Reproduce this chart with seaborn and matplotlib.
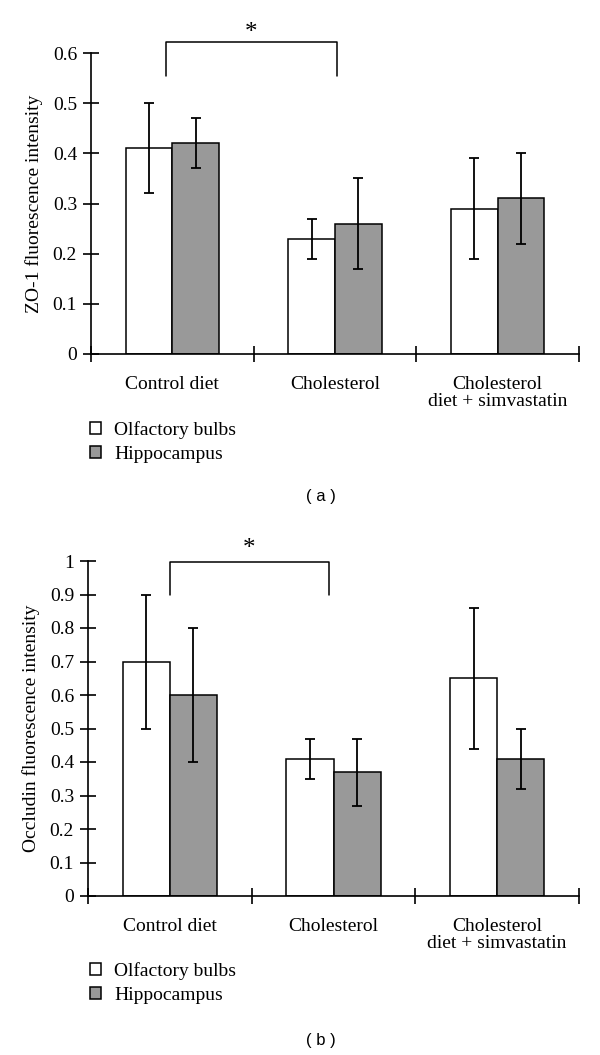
import numpy as np
import pandas as pd
import seaborn as sns
import matplotlib.pyplot as plt
from matplotlib.patches import Patch

# categories and series
groups = ["Control diet", "Cholesterol", "Cholesterol\ndiet + simvastatin"]
tissues = ["Olfactory bulbs", "Hippocampus"]

zo1_olf = [0.41, 0.23, 0.29]
zo1_olf_err = [0.09, 0.04, 0.10]
zo1_hip = [0.42, 0.26, 0.31]
zo1_hip_err = [0.05, 0.09, 0.09]

occ_olf = [0.70, 0.41, 0.65]
occ_olf_err = [0.20, 0.06, 0.21]
occ_hip = [0.60, 0.37, 0.41]
occ_hip_err = [0.20, 0.10, 0.09]

zo1_ticks = [0, 0.1, 0.2, 0.3, 0.4, 0.5, 0.6]
zo1_ticklabels = ["0", "0.1", "0.2", "0.3", "0.4", "0.5", "0.6"]
occ_ticks = [0, 0.1, 0.2, 0.3, 0.4, 0.5, 0.6, 0.7, 0.8, 0.9, 1.0]
occ_ticklabels = ["0", "0.1", "0.2", "0.3", "0.4", "0.5", "0.6", "0.7", "0.8", "0.9", "1"]

SERIF = ["Liberation Serif", "DejaVu Serif"]
FS = 14


def make_df(olf,olf_err,hip,hip_err):
    return pd.DataFrame({
        "group": groups * 2,
        "tissue": [tissues[0]] * 3 + [tissues[1]] * 3,
        "value": olf + hip,
        "err": olf_err + hip_err,
    })


def draw_panel(fig,rect,df,ticks,ticklabels,ylim,ylabel,bracket,legend_y,tag,tag_y):
    ax = fig.add_axes(rect)
    sns.barplot(data=df,x="group",y="value",hue="tissue",order=groups,hue_order=tissues,
                palette=["white","#999999"],edgecolor="black",linewidth=1.1,
                width=0.575,errorbar=None,legend=False,ax=ax)

    # error bars at the bar centres that seaborn laid out
    for cont,tissue in zip(ax.containers,tissues):
        sub = df[df["tissue"]== tissue].set_index("group").loc[groups]
        xs = [b.get_x() + b.get_width() / 2 for b in cont]
        ax.errorbar(xs,sub["value"],yerr=sub["err"],fmt="none",ecolor="black",
                    elinewidth=1.3,capsize=3.5,capthick=1.3)

    ax.set_xlim(-0.5,2.5)
    ax.set_ylim(*ylim)
    ax.set_yticks(ticks)
    ax.set_yticklabels(ticklabels,fontsize=FS,family=SERIF)
    ax.tick_params(axis="y",left=True,direction="inout",length=12,width=1.2,pad=4,color="black")

    ax.set_xticks([-0.5,0.5,1.5,2.5])
    ax.set_xticklabels([])
    ax.tick_params(axis="x",which="major",bottom=True,direction="inout",length=12,width=1.2,color="black")
    ax.set_xticks([0,1,2],minor=True)
    ax.set_xticklabels(groups,minor=True,fontsize=FS,family=SERIF,linespacing=0.95)
    ax.tick_params(axis="x",which="minor",bottom=True,length=0,pad=16)

    ax.set_xlabel("")
    ax.set_ylabel(ylabel,fontsize=FS,family=SERIF,labelpad=7)
    sns.despine(ax=ax)
    for s in ("left","bottom"):
        ax.spines[s].set_linewidth(1.2)
        ax.spines[s].set_color("black")

    # significance bracket between control and cholesterol groups
    x0,x1,ytop,ybot,ystar = bracket
    ax.plot([x0,x0,x1,x1],[ybot,ytop,ytop,ybot],color="black",lw=1.1,clip_on=False)
    ax.text((x0 + x1) / 2,ystar,"*",ha="center",va="center",fontsize=18,family=SERIF)

    handles = [Patch(facecolor="white",edgecolor="black",lw=1.1),
               Patch(facecolor="#999999",edgecolor="black",lw=1.1)]
    fig.legend(handles,tissues,loc="center left",bbox_to_anchor=(90/600,legend_y),
               frameon=False,borderpad=0,borderaxespad=0,handlelength=0.55,handleheight=0.55,
               handletextpad=0.7,labelspacing=0.38,prop={"family":SERIF,"size":FS})

    fig.text(321/600,tag_y,tag,ha="center",va="center",fontsize=12,family="Liberation Sans")
    return ax


sns.set_theme(style="white",rc={"text.color":"black","axes.labelcolor":"black",
                                "xtick.color":"black","ytick.color":"black"})
plt.rcParams["font.family"] = SERIF

fig = plt.figure(figsize=(6,10.55),dpi=100)

zo1_df = make_df(zo1_olf,zo1_olf_err,zo1_hip,zo1_hip_err)
occ_df = make_df(occ_olf,occ_olf_err,occ_hip,occ_hip_err)

draw_panel(fig,[91/600,1-354/1055,488/600,301/1055],zo1_df,zo1_ticks,zo1_ticklabels,
           (0,0.6),"ZO-1 fluorescence intensity",(-0.04,1.01,0.622,0.555,0.64),
           1-442/1055,"( a )",1-497/1055)

draw_panel(fig,[88/600,1-896/1055,491/600,335/1055],occ_df,occ_ticks,occ_ticklabels,
           (0,1.0),"Occludin fluorescence intensity",(0.0,0.97,0.997,0.9,1.037),
           1-983/1055,"( b )",1-1040/1055)

fig.savefig("out.png",dpi=100,facecolor="white")
